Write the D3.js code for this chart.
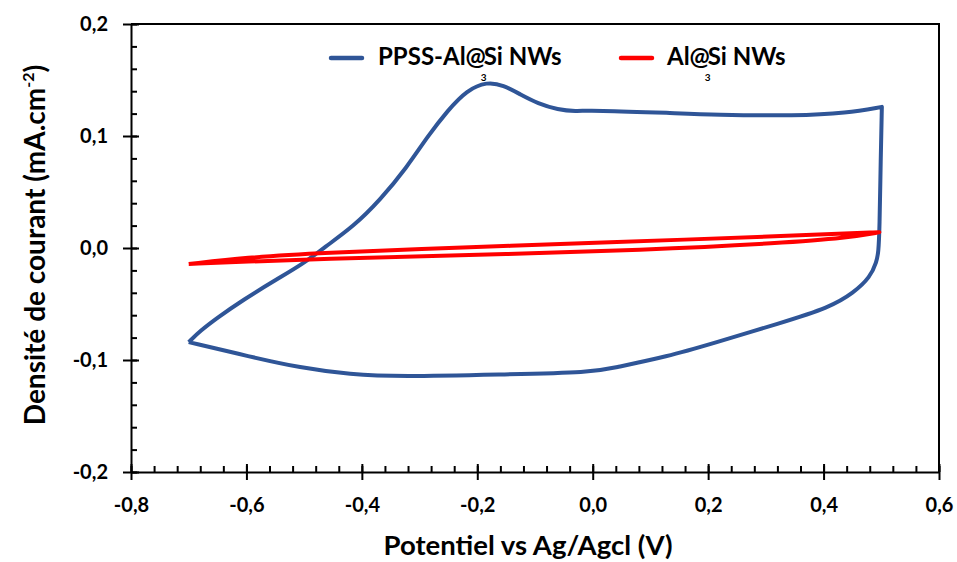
<!DOCTYPE html>
<html><head><meta charset="utf-8">
<script src="https://cdn.jsdelivr.net/npm/d3@7"></script>
<style>
html,body{margin:0;padding:0;background:#fff;}
svg{display:block;font-family:Lato,"Open Sans",sans-serif;font-weight:bold;}
</style></head>
<body><svg id="c" width="957" height="562"></svg>
<script>
// ---- data ----
const xTicks = [-0.8,-0.6,-0.4,-0.2,0.0,0.2,0.4,0.6];
const yTicks = [-0.2,-0.1,0.0,0.1,0.2];
const seriesNames = ["PPSS-Al@","Al@"];
const seriesTails = ["Si NWs","Si NWs"];
const ppssPotential = [-0.70,-0.68,-0.651,-0.606,-0.547,-0.502,-0.464,-0.415,-0.368,-0.322,-0.287,-0.251,-0.218,-0.183,-0.155,-0.125,-0.095,-0.06,-0.03,0.0,0.139,0.209,0.354,0.44,0.501,0.501,0.501,0.499,0.497,0.495,0.492,0.481,0.452,0.411,0.325,0.209,0.129,0.035,0.0,-0.160,-0.334,-0.420,-0.507,-0.594,-0.70,-0.70];
const ppssCurrent = [-0.084,-0.074,-0.0625,-0.0464,-0.0277,-0.0143,0.001,0.019,0.043,0.072,0.099,0.123,0.141,0.1485,0.1455,0.137,0.129,0.1235,0.122,0.123,0.1205,0.119,0.118,0.1205,0.126,0.126,0.126,0.08,0.016,-0.004,-0.012,-0.026,-0.040,-0.053,-0.067,-0.085,-0.097,-0.107,-0.111,-0.113,-0.115,-0.113,-0.107,-0.097,-0.084,-0.084];
const alsiPotential = [-0.70,-0.70,-0.60,-0.48,-0.20,0.0,0.38,0.50,0.50,0.44,0.33,0.09,-0.20,-0.48,-0.60,-0.70,-0.70];
const alsiCurrent = [-0.0143,-0.0143,-0.0085,-0.0045,0.001,0.0045,0.0116,0.0143,0.0143,0.009,0.0045,-0.0018,-0.0063,-0.0098,-0.0122,-0.0143,-0.0143];
const colors = ["#2F5597","#FF0000"];

// ---- layout ----
const svg = d3.select("#c");
const L = 131, R = 939, T = 24, B = 472;
const x = d3.scaleLinear().domain([-0.8,0.6]).range([L,R]);
const y = d3.scaleLinear().domain([-0.2,0.2]).range([B,T]);
const fmt = d => (d < 0 ? "-" : "") + Math.abs(d).toFixed(1).replace(".", ",");

svg.append("path").attr("d",`M${L},${T}H${R}V${B}`).attr("fill","none").attr("stroke","#000").attr("stroke-width",2);

const xMinor = d3.range(-0.8,0.6001,0.04).map(v=>+v.toFixed(2));
const yMinor = d3.range(-0.2,0.2001,0.02).map(v=>+v.toFixed(2));
svg.append("g").attr("transform",`translate(0,${B})`)
  .call(d3.axisBottom(x).tickValues(xMinor).tickSizeInner(-6).tickSizeOuter(0).tickFormat(""))
  .call(g=>g.select(".domain").remove());
svg.append("g").attr("transform",`translate(${L},0)`)
  .call(d3.axisLeft(y).tickValues(yMinor).tickSizeInner(-6).tickSizeOuter(0).tickFormat(""))
  .call(g=>g.select(".domain").remove());
svg.append("g").attr("transform",`translate(0,${B})`)
  .call(d3.axisBottom(x).tickValues(xTicks).tickSizeInner(-8).tickSizeOuter(0).tickFormat(""))
  .call(g=>g.select(".domain").remove());
svg.append("g").attr("transform",`translate(${L},0)`)
  .call(d3.axisLeft(y).tickValues(yTicks).tickSizeInner(-8).tickSizeOuter(0).tickFormat(""))
  .call(g=>g.select(".domain").remove());
const xa = svg.append("g").attr("transform",`translate(0,${B})`)
  .call(d3.axisBottom(x).tickValues(xTicks).tickSizeInner(8).tickSizeOuter(0).tickPadding(18).tickFormat(fmt));
const ya = svg.append("g").attr("transform",`translate(${L},0)`)
  .call(d3.axisLeft(y).tickValues(yTicks).tickSizeInner(8).tickSizeOuter(0).tickPadding(15).tickFormat(fmt));
[xa,ya].forEach(g=>{
  g.selectAll("text").attr("font-size",20).attr("font-family","Lato,sans-serif").attr("font-weight","bold").attr("fill","#000");
});
svg.selectAll(".domain,.tick line").attr("stroke","#000").attr("stroke-width",2);

// curves
const line = d3.line().x(d=>x(d[0])).y(d=>y(d[1])).curve(d3.curveBasis);
const ppss = ppssPotential.map((v,i)=>[v,ppssCurrent[i]]);
const alsi = alsiPotential.map((v,i)=>[v,alsiCurrent[i]]);
svg.append("path").datum(ppss).attr("d",line).attr("fill","none").attr("stroke",colors[0]).attr("stroke-width",4).attr("stroke-linejoin","round");
svg.append("path").datum(alsi).attr("d",line).attr("fill","none").attr("stroke",colors[1]).attr("stroke-width",4).attr("stroke-linejoin","round");

// legend
const leg = [{x1:331,x2:362,tx:378},{x1:621,x2:652,tx:667}];
leg.forEach((l,i)=>{
  svg.append("line").attr("x1",l.x1).attr("x2",l.x2).attr("y1",58).attr("y2",58)
    .attr("stroke",colors[i]).attr("stroke-width",4.5).attr("stroke-linecap","round");
  const t = svg.append("text").attr("x",l.tx).attr("y",65).attr("font-size",24);
  t.append("tspan").text(seriesNames[i]);
  t.append("tspan").attr("font-size",10).attr("dx",-5).attr("dy",16).text("3");
  t.append("tspan").attr("dx",-3).attr("dy",-16).text(seriesTails[i]);
});

// axis titles
svg.append("text").attr("x",528).attr("y",555).attr("text-anchor","middle").attr("font-size",27.5).text("Potentiel vs Ag/Agcl (V)");
const yt = svg.append("text").attr("transform","translate(45,245) rotate(-90)").attr("text-anchor","middle").attr("font-size",28);
yt.append("tspan").text("Densité de courant (mA.cm");
yt.append("tspan").attr("font-size",16).attr("dy",-11).text("-2");
yt.append("tspan").attr("dy",11).text(")");
</script></body></html>
